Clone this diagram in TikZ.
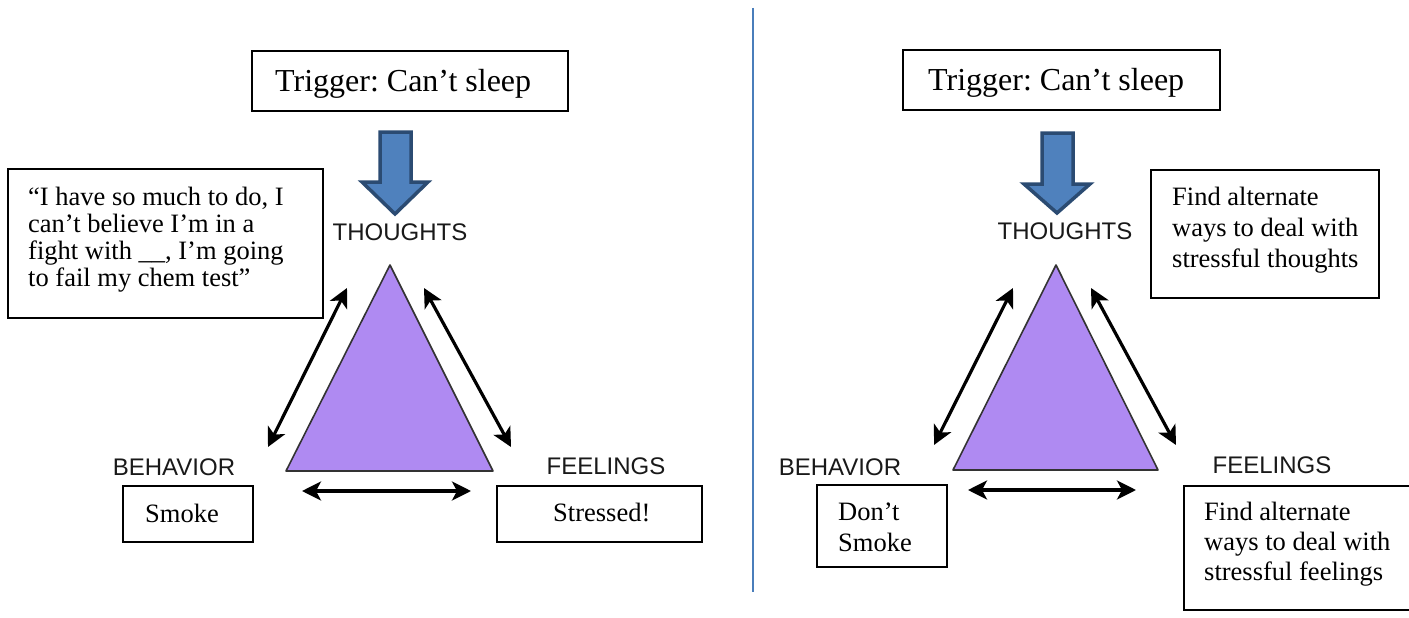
\documentclass[tikz,border=0pt]{standalone}
\usepackage{fontspec}
\setmainfont{Liberation Serif}
\newfontfamily\lblfont{Liberation Sans}
\usetikzlibrary{arrows.meta}
\definecolor{trifill}{HTML}{AF8AF2}
\definecolor{blkfill}{HTML}{4F81BD}
\definecolor{blkedge}{HTML}{2B4B72}
\definecolor{divider}{HTML}{4A7EBB}
\frenchspacing
\begin{document}
\begin{tikzpicture}[x=1pt,y=-1pt,
  box/.style={draw=black, line width=1.8pt, inner sep=0pt, outer sep=0pt, anchor=north west},
  txt/.style={inner sep=0pt, anchor=base west, align=left, font=\fontsize{26.5}{31}\selectfont},
  trig/.style={inner sep=0pt, anchor=base west, font=\fontsize{32}{38}\selectfont},
  lbl/.style={inner sep=0pt, anchor=base, font=\lblfont\fontsize{24}{28}\selectfont, text=black!90},
  trishape/.style={fill=trifill, draw=black!80, line width=1.6pt, line join=round},
  blockarrow/.style={fill=blkfill, draw=blkedge, line width=3.5pt, line join=miter},
  rel/.style={{Stealth[length=19pt,width=19pt,inset=5pt]}-{Stealth[length=19pt,width=19pt,inset=5pt]}, line width=3.2pt}
]
\useasboundingbox (0,0) rectangle (1409,618);
\fill[white] (0,0) rectangle (1409,618);

% divider
\coordinate (dtop) at (752.7,8);
\coordinate (dbot) at (752.7,592);
\draw[divider, line width=1.6pt] (dtop) -- (dbot);

% ================= LEFT =================
\node[box, minimum width=316pt, minimum height=60pt] (trigL) at (252,51) {};
\node[trig] (trigLt) at (275,92) {Trigger: Can’t sleep};
\draw[blockarrow] (380,132) -- (411,132) -- (411,182) -- (428,182) -- (395,214) -- (362,182) -- (380,182) -- cycle;
\node[lbl] (thL) at (400,240) {THOUGHTS};

\node[box, minimum width=315pt, minimum height=149pt] (quote) at (8,169) {};
% anchor is the baseline of the last line
\node[txt, font=\fontsize{26.5}{26.7}\selectfont] (quotet) at (28,286) {“I have so much to do, I\\can’t believe I’m in a\\fight with \_\_, I’m going\\to fail my chem test”};

\coordinate (aL) at (390,265);
\coordinate (bL) at (286,471);
\coordinate (cL) at (493,471);
\draw[trishape] (aL) -- (bL) -- (cL) -- cycle;

\coordinate (l1s) at (268,447); \coordinate (l1e) at (347,288);
\coordinate (l2s) at (424,288); \coordinate (l2e) at (511,447);
\coordinate (l3s) at (302,491); \coordinate (l3e) at (471,491);
\draw[rel] (l1s) -- (l1e);
\draw[rel] (l2s) -- (l2e);
\draw[rel] (l3s) -- (l3e);

\node[lbl] (behL) at (174,475) {BEHAVIOR};
\node[lbl] (feelL) at (606,474) {FEELINGS};

\node[box, minimum width=130pt, minimum height=56pt] (smoke) at (123,486) {};
\node[txt] (smoket) at (145,522) {Smoke};
\node[box, minimum width=205pt, minimum height=56pt] (stressed) at (497,486) {};
\node[txt] (stressedt) at (553,521) {Stressed!};

% ================= RIGHT =================
\node[box, minimum width=317pt, minimum height=60pt] (trigR) at (903,50) {};
\node[trig] (trigRt) at (928,91) {Trigger: Can’t sleep};
\draw[blockarrow] (1042,133) -- (1073,133) -- (1073,184) -- (1090,184) -- (1057,213) -- (1024,184) -- (1042,184) -- cycle;
\node[lbl] (thR) at (1065,239) {THOUGHTS};

\node[box, minimum width=228pt, minimum height=128pt] (thbox) at (1151,170) {};
\node[txt] (thboxt) at (1172,267) {Find alternate\\ways to deal with\\stressful thoughts};

\coordinate (aR) at (1056,265);
\coordinate (bR) at (953,470);
\coordinate (cR) at (1158,470);
\draw[trishape] (aR) -- (bR) -- (cR) -- cycle;

\coordinate (r1s) at (934,445); \coordinate (r1e) at (1013,288);
\coordinate (r2s) at (1091,288); \coordinate (r2e) at (1176,445);
\coordinate (r3s) at (968,490); \coordinate (r3e) at (1136,490);
\draw[rel] (r1s) -- (r1e);
\draw[rel] (r2s) -- (r2e);
\draw[rel] (r3s) -- (r3e);

\node[lbl] (behR) at (840,475) {BEHAVIOR};
\node[lbl] (feelR) at (1272,473) {FEELINGS};

\node[box, minimum width=130pt, minimum height=82pt] (dont) at (817,485) {};
\node[txt] (dontt) at (838,551) {Don’t\\Smoke};
\node[box, minimum width=228pt, minimum height=124pt] (feelbox) at (1184,486) {};
\node[txt, font=\fontsize{26.5}{30}\selectfont] (feelboxt) at (1204,580) {Find alternate\\ways to deal with\\stressful feelings};
\end{tikzpicture}
\end{document}
